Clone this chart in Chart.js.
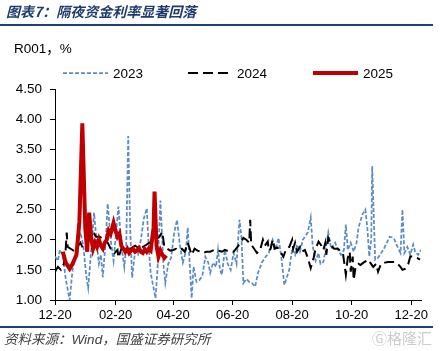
<!DOCTYPE html>
<html>
<head>
<meta charset="utf-8">
<script src="https://cdn.jsdelivr.net/npm/chart.js@4.4.0/dist/chart.umd.min.js"></script>
<style>
html,body{margin:0;padding:0;background:#fff;width:441px;height:351px;overflow:hidden;}
#wrap{position:relative;width:441px;height:351px;}
canvas{position:absolute;left:0;top:0;}
.ov{position:absolute;white-space:nowrap;z-index:2;}
#title{left:6px;top:1px;font:italic bold 14px "Noto Sans CJK SC",sans-serif;color:#1F3A6E;}
#tline{position:absolute;left:0;top:24px;width:433px;height:2px;background:#1F3F77;z-index:2;}
#bline{position:absolute;left:0;top:326px;width:433px;height:2px;background:#1F3F77;z-index:2;}
#unit{left:14px;top:37px;font:13.5px "Liberation Sans","Noto Sans CJK SC",sans-serif;color:#000;}
#src{left:4px;top:328px;font:italic 13.5px "Liberation Sans","Noto Sans CJK SC",sans-serif;color:#404040;}
#wm{left:372px;top:327px;font:15px "Noto Sans CJK SC",sans-serif;color:rgba(160,160,160,0.55);}
</style>
</head>
<body>
<div id="wrap">
<canvas id="c" width="441" height="351"></canvas>
<div id="title" class="ov">图表7：隔夜资金利率显著回落</div>
<div id="tline"></div>
<div id="unit" class="ov">R001，%</div>
<div id="bline"></div>
<div id="src" class="ov">资料来源：Wind，国盛证券研究所</div>
<div id="wm" class="ov">Ⓖ格隆汇</div>
</div>
<script>
// x values: days counted from 12-20 of the previous year
const tickDays   = [0, 62, 121, 182, 243, 304, 365];
const tickLabels = ['12-20', '02-20', '04-20', '06-20', '08-20', '10-20', '12-20'];
const seriesNames = ['2023', '2024', '2025'];

const days2023 = [0,3,5,8,11,15,18,22,26,29,32,34,37,40,43,45,47,49,52,54,57,60,63,65,68,71,73,75,77,79,82,85,88,91,94,96,98,103,105,108,111,113,116,119,122,125,128,131,134,136,140,142,145,148,151,154,157,159,162,165,167,169,171,174,177,180,183,186,189,191,193,196,199,202,205,208,212,215,219,223,226,229,232,235,237,240,243,246,248,251,254,259,262,264,267,270,272,275,278,280,283,287,290,293,296,298,300,303,306,309,311,315,318,320,322,324,325,326,328,331,333,337,340,343,347,351,354,356,358,361,364,367,369,372,375];
const r2023 = [1.72,1.65,1.83,1.75,1.35,1.0,1.5,1.85,2.12,1.9,
1.4,1.2,1.8,2.45,1.9,1.6,1.75,1.38,2.0,2.6,
2.0,1.65,2.2,2.55,1.9,1.55,1.9,3.72,2.2,1.37,
1.8,1.75,2.0,2.35,2.52,1.9,1.45,1.03,1.5,2.65,
1.6,1.28,1.6,1.7,2.1,2.33,1.9,1.62,1.8,2.2,
1.03,1.55,1.3,1.33,1.4,1.72,1.62,1.45,1.62,1.55,
1.83,1.5,1.42,1.83,1.6,1.5,1.78,1.6,2.33,2.05,
1.28,1.35,1.3,1.28,1.22,1.45,1.62,1.7,1.78,2.0,
1.85,2.03,1.7,1.25,1.35,1.5,1.85,1.75,1.92,1.8,
2.0,2.12,2.37,1.9,1.65,1.78,1.6,1.63,1.9,2.12,
1.85,1.95,1.83,1.75,1.83,2.25,1.83,1.95,1.8,1.95,
2.2,2.42,2.5,2.2,1.72,2.0,3.22,2.7,1.67,1.7,
1.75,1.85,1.95,2.05,2.03,1.88,1.78,2.5,1.78,1.88,
1.75,1.92,1.8,1.75,1.83];

const days2024 = [0,3,6,9,11,12,13,16,19,23,26,29,32,35,38,40,42,46,50,54,57,61,64,65,68,72,77,82,87,92,97,103,107,110,112,115,118,121,124,127,130,133,136,140,143,146,149,152,155,159,163,167,171,174,179,183,187,190,193,196,199,200,201,204,207,210,213,215,218,219,221,223,225,228,231,234,237,240,243,244,246,248,251,253,256,259,262,265,267,270,273,275,277,278,280,283,286,290,293,295,298,300,302,303,305,306,308,311,313,316,319,321,323,326,329,331,334,338,341,344,348,351,354,356,359,362,364,368,371,374];
const r2024 = [1.47,1.55,1.5,1.6,1.85,2.12,1.88,1.85,1.82,1.88,
1.95,1.85,1.9,2.0,2.08,2.1,2.05,2.05,2.0,1.95,
1.85,1.78,1.83,1.7,1.85,1.87,1.85,1.9,1.85,1.9,
1.95,2.0,2.05,2.13,1.88,1.85,1.82,1.83,1.85,1.82,
1.85,1.8,1.95,1.75,1.85,1.82,1.8,1.78,1.8,1.8,
1.83,1.82,1.8,1.83,1.8,1.8,1.88,1.95,2.03,2.0,
1.95,2.33,1.92,1.85,1.78,1.82,2.0,1.9,1.97,1.82,
1.85,2.0,1.85,1.87,1.8,1.72,1.85,1.88,2.0,1.85,
1.95,1.8,1.88,1.8,1.83,1.7,1.53,1.7,1.85,1.97,
1.9,1.83,1.95,1.75,2.03,1.9,1.85,1.85,1.8,1.78,
1.42,1.7,1.8,1.47,1.72,1.33,1.55,1.6,1.58,1.62,
1.65,1.67,1.62,1.55,1.6,1.47,1.6,1.62,1.63,1.63,
1.63,1.6,1.55,1.5,1.52,1.6,1.72,1.72,1.7,1.67];

const days2025 = [8,11,15,18,22,25,28,31,33,35,37,39,41,43,45,47,49,51,53,55,57,60,62,64,66,68,70,72,74,76,78,80,82,84,86,88,90,92,94,96,98,101,102,104,106,108,110,112,114];
const r2025 = [1.80,1.62,1.52,1.60,1.75,2.30,3.93,2.20,1.80,2.45,
2.05,1.85,1.95,1.88,2.00,1.90,1.85,1.95,2.00,2.15,
2.10,2.28,2.15,2.05,2.10,1.90,1.85,1.80,1.85,1.78,
1.82,1.85,1.80,1.82,1.86,1.80,1.78,1.84,1.80,1.85,
1.82,2.20,2.80,1.90,1.72,1.82,1.75,1.70,1.74];

const yTicks = [1.0, 1.5, 2.0, 2.5, 3.0, 3.5, 4.0, 4.5];

function pts(d, v){ return d.map((x, i) => ({x: x, y: v[i]})); }

const legendSpec = [
  {ds: 2, x0: 63, x1: 108, tx: 113},
  {ds: 1, x0: 188, x1: 233, tx: 237},
  {ds: 0, x0: 313, x1: 358, tx: 363}
];
const legendPlugin = {
  id: 'customLegend',
  afterDraw(chart){
    const ctx = chart.ctx;
    const y = 73;
    ctx.save();
    legendSpec.forEach(it => {
      const ds = chart.data.datasets[it.ds];
      ctx.beginPath();
      ctx.strokeStyle = ds.borderColor;
      ctx.lineWidth = ds.borderWidth;
      ctx.setLineDash(ds.borderDash || []);
      ctx.moveTo(it.x0, y);
      ctx.lineTo(it.x1, y);
      ctx.stroke();
      ctx.setLineDash([]);
      ctx.fillStyle = '#000';
      ctx.font = '13.5px "Liberation Sans", Arial, sans-serif';
      ctx.textBaseline = 'middle';
      ctx.textAlign = 'left';
      ctx.fillText(ds.label, it.tx, y + 1);
    });
    ctx.restore();
  }
};

new Chart(document.getElementById('c'), {
  type: 'line',
  data: {
    datasets: [
      {label: seriesNames[2], data: pts(days2025, r2025), borderColor: '#C00000', borderWidth: 4, pointRadius: 0, tension: 0, fill: false, order: 0},
      {label: seriesNames[1], data: pts(days2024, r2024), borderColor: '#000000', borderWidth: 2, borderDash: [10, 5], pointRadius: 0, tension: 0, fill: false, order: 1},
      {label: seriesNames[0], data: pts(days2023, r2023), borderColor: '#5B8CC8', borderWidth: 1.75, borderDash: [4, 2], pointRadius: 0, tension: 0, fill: false, order: 2}
    ]
  },
  options: {
    responsive: false,
    animation: false,
    devicePixelRatio: 1,
    layout: {padding: {top: 89, right: 20, left: 0, bottom: 0}},
    plugins: {legend: {display: false}, tooltip: {enabled: false}, title: {display: false}},
    scales: {
      x: {
        type: 'linear',
        min: 0,
        max: 375,
        afterBuildTicks: s => { s.ticks = tickDays.map(v => ({value: v})); },
        afterFit: s => { s.height = 51; },
        ticks: {
          autoSkip: false,
          maxRotation: 0,
          padding: 3,
          color: '#000',
          font: {family: '"Liberation Sans", Arial, sans-serif', size: 13},
          callback: (v, i) => tickLabels[i]
        },
        grid: {display: true, drawOnChartArea: false, drawTicks: true, tickLength: 5, color: '#000', lineWidth: 1},
        border: {display: true, color: '#000', width: 1}
      },
      y: {
        min: 1,
        max: 4.5,
        afterBuildTicks: s => { s.ticks = yTicks.map(v => ({value: v})); },
        afterFit: s => { s.width = 55; },
        ticks: {
          padding: 8,
          color: '#000',
          font: {family: '"Liberation Sans", Arial, sans-serif', size: 13.5},
          callback: v => Number(v).toFixed(2)
        },
        grid: {display: true, drawOnChartArea: false, drawTicks: true, tickLength: 5, color: '#000', lineWidth: 1},
        border: {display: true, color: '#000', width: 1}
      }
    }
  },
  plugins: [legendPlugin]
});
</script>
</body>
</html>
